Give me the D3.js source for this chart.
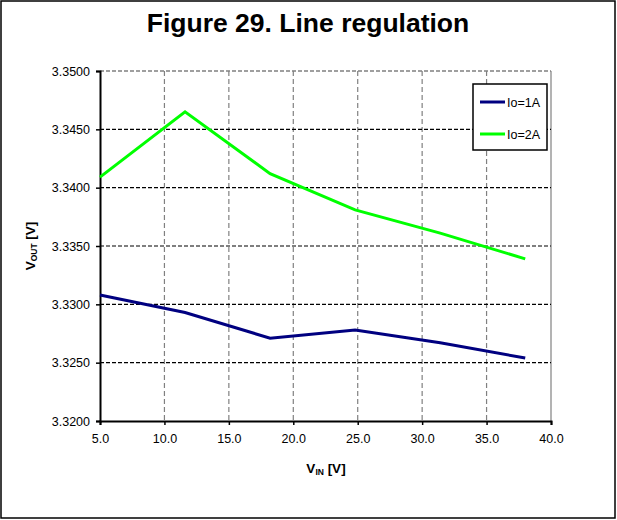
<!DOCTYPE html>
<html>
<head>
<meta charset="utf-8">
<script src="https://cdn.jsdelivr.net/npm/d3@7"></script>
<style>
  body { margin: 0; background: #fff; }
  svg { font-family: "Liberation Sans", Arial, sans-serif; }
</style>
</head>
<body>
<svg></svg>
<script>
// data
const vin = [5.0, 11.6, 18.2, 24.8, 31.4, 38.0];
const io1A = [3.3308, 3.3293, 3.3271, 3.3278, 3.3267, 3.3254];
const io2A = [3.3409, 3.3465, 3.3412, 3.3381, 3.3361, 3.3339];
const xTicks = [5, 10, 15, 20, 25, 30, 35, 40];
const yTicks = [3.32, 3.325, 3.33, 3.335, 3.34, 3.345, 3.35];
const seriesNames = ["Io=1A", "Io=2A"];
const seriesColors = ["#000080", "#00ff00"];

const drawChart = () => {
  let width = 617;
  let height = 520;
  let svg = d3.select("svg").attr("width", width).attr("height", height);

  // outer frame
  svg.append("rect")
    .attr("x", 1).attr("y", 1)
    .attr("width", width - 3).attr("height", 517)
    .attr("fill", "#fff").attr("stroke", "#000").attr("stroke-width", 1.5);

  svg.append("text")
    .attr("x", 308).attr("y", 32)
    .attr("text-anchor", "middle")
    .attr("font-size", 26.5).attr("font-weight", "bold")
    .text("Figure 29. Line regulation");

  let pLeft = 100, pRight = 551, pTop = 71, pBottom = 421;

  let x = d3.scaleLinear().domain([5, 40]).range([pLeft, pRight]);
  let y = d3.scaleLinear().domain([3.32, 3.35]).range([pBottom, pTop]);

  // vertical grid (grey dashed)
  svg.append("g")
    .selectAll("line")
    .data(xTicks.slice(1))
    .enter()
    .append("line")
    .attr("x1", (d) => x(d)).attr("x2", (d) => x(d))
    .attr("y1", pTop).attr("y2", pBottom)
    .attr("stroke", "#808080").attr("stroke-width", 1.2)
    .attr("stroke-dasharray", (d) => (d === 40 ? null : "5,3"));

  // horizontal grid (black dashed), top edge grey
  svg.append("g")
    .selectAll("line")
    .data(yTicks.slice(1))
    .enter()
    .append("line")
    .attr("x1", pLeft).attr("x2", pRight)
    .attr("y1", (d) => y(d)).attr("y2", (d) => y(d))
    .attr("stroke", (d) => (d === 3.35 ? "#808080" : "#000"))
    .attr("stroke-width", (d) => (d === 3.35 ? 1.5 : 1.2))
    .attr("stroke-dasharray", "4,2");

  // axes
  let xAxis = svg.append("g")
    .attr("transform", "translate(0," + pBottom + ")")
    .call(d3.axisBottom(x).tickValues(xTicks).tickFormat(d3.format(".1f")).tickSize(4).tickPadding(9));
  let yAxis = svg.append("g")
    .attr("transform", "translate(" + pLeft + ",0)")
    .call(d3.axisLeft(y).tickValues(yTicks).tickFormat(d3.format(".4f")).tickSize(4).tickPadding(6));

  [xAxis, yAxis].forEach((a) => {
    a.select(".domain").attr("stroke", "#000").attr("stroke-width", 2);
    a.selectAll(".tick line").attr("stroke", "#000").attr("stroke-width", 1.5);
    a.selectAll("text").attr("font-size", 12.5).attr("fill", "#000")
      .attr("font-family", "Liberation Sans, Arial, sans-serif");
  });

  // lines
  let line = d3.line().x((d) => x(d[0])).y((d) => y(d[1]));
  [io1A, io2A].forEach((vals, i) => {
    svg.append("path")
      .datum(vin.map((v, j) => [v, vals[j]]))
      .attr("d", line)
      .attr("fill", "none")
      .attr("stroke", seriesColors[i])
      .attr("stroke-width", 3);
  });

  // legend
  let lg = svg.append("g").attr("transform", "translate(473,84)");
  lg.append("rect")
    .attr("width", 74).attr("height", 66)
    .attr("fill", "#fff").attr("stroke", "#000").attr("stroke-width", 1.5);
  seriesNames.forEach((name, i) => {
    let yy = 18 + i * 32;
    lg.append("line")
      .attr("x1", 7).attr("x2", 32).attr("y1", yy).attr("y2", yy)
      .attr("stroke", seriesColors[i]).attr("stroke-width", 3);
    lg.append("text")
      .attr("x", 34).attr("y", yy + 4.5)
      .attr("font-size", 12.5)
      .text(name);
  });

  // axis titles
  let xl = svg.append("text")
    .attr("x", 326).attr("y", 473)
    .attr("text-anchor", "middle")
    .attr("font-size", 13.5).attr("font-weight", "bold");
  xl.append("tspan").text("V");
  xl.append("tspan").attr("font-size", 8.5).attr("dy", 2).text("IN");
  xl.append("tspan").attr("dy", -2).text(" [V]");

  let yl = svg.append("text")
    .attr("transform", "translate(35,246) rotate(-90)")
    .attr("text-anchor", "middle")
    .attr("font-size", 13.5).attr("font-weight", "bold");
  yl.append("tspan").text("V");
  yl.append("tspan").attr("font-size", 8.5).attr("dy", 2).text("OUT");
  yl.append("tspan").attr("dy", -2).text(" [V]");
};

drawChart();
</script>
</body>
</html>
